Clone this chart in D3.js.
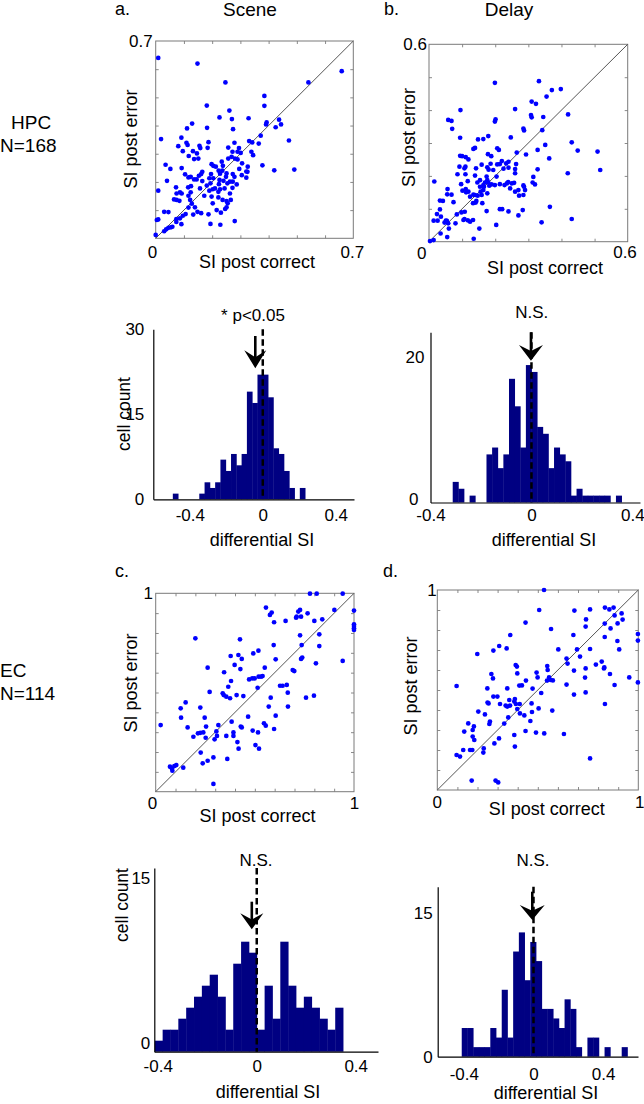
<!DOCTYPE html>
<html><head><meta charset="utf-8">
<script src="https://cdn.jsdelivr.net/npm/d3@7"></script>
<style>
body{margin:0;background:#fff}
svg{display:block}
text{font-family:"Liberation Sans",Arial,sans-serif;fill:#000}
</style>
</head><body>
<svg id="fig" width="644" height="1104"></svg>
<script>
// ---------------- DATA ----------------
// scatter values: [SI post correct, SI post error]
const hpcScene = [[0.009,0.640],[0.148,0.620],[0.659,0.593],[0.541,0.553],[0.247,0.553],[0.385,0.505],[0.385,0.470],[0.181,0.471],[0.261,0.453],[0.226,0.429],[0.270,0.423],[0.329,0.426],[0.393,0.411],[0.391,0.404],[0.437,0.421],[0.444,0.404],[0.425,0.394],[0.129,0.407],[0.111,0.390],[0.182,0.392],[0.274,0.387],[0.372,0.364],[0.019,0.352],[0.091,0.357],[0.080,0.327],[0.113,0.331],[0.109,0.339],[0.155,0.328],[0.158,0.320],[0.187,0.341],[0.184,0.321],[0.096,0.309],[0.132,0.309],[0.117,0.292],[0.146,0.301],[0.257,0.322],[0.279,0.339],[0.272,0.307],[0.290,0.307],[0.295,0.320],[0.301,0.303],[0.331,0.345],[0.342,0.340],[0.365,0.336],[0.339,0.307],[0.345,0.295],[0.472,0.347],[0.281,0.283],[0.290,0.280],[0.136,0.281],[0.151,0.283],[0.198,0.263],[0.204,0.257],[0.238,0.257],[0.234,0.272],[0.257,0.283],[0.269,0.289],[0.236,0.240],[0.213,0.254],[0.035,0.261],[0.052,0.246],[0.092,0.249],[0.378,0.259],[0.420,0.241],[0.491,0.244],[0.306,0.266],[0.326,0.254],[0.296,0.246],[0.321,0.237],[0.321,0.215],[0.104,0.227],[0.124,0.218],[0.161,0.228],[0.165,0.236],[0.153,0.222],[0.116,0.216],[0.136,0.209],[0.145,0.209],[0.196,0.228],[0.223,0.240],[0.228,0.229],[0.251,0.230],[0.273,0.228],[0.249,0.218],[0.279,0.218],[0.305,0.224],[0.325,0.236],[0.165,0.203],[0.190,0.213],[0.204,0.213],[0.194,0.195],[0.226,0.207],[0.240,0.204],[0.263,0.201],[0.273,0.201],[0.287,0.191],[0.040,0.204],[0.009,0.169],[0.224,0.192],[0.254,0.195],[0.072,0.181],[0.115,0.181],[0.125,0.185],[0.086,0.163],[0.074,0.159],[0.092,0.159],[0.124,0.163],[0.116,0.151],[0.157,0.177],[0.181,0.187],[0.190,0.169],[0.202,0.174],[0.210,0.177],[0.222,0.165],[0.228,0.174],[0.244,0.177],[0.272,0.179],[0.263,0.159],[0.222,0.145],[0.237,0.136],[0.251,0.132],[0.266,0.136],[0.172,0.151],[0.198,0.148],[0.122,0.136],[0.065,0.138],[0.074,0.136],[0.084,0.133],[0.202,0.124],[0.128,0.123],[0.255,0.124],[0.139,0.110],[0.116,0.109],[0.148,0.094],[0.161,0.089],[0.133,0.084],[0.106,0.086],[0.096,0.080],[0.086,0.071],[0.073,0.068],[0.187,0.085],[0.216,0.100],[0.246,0.104],[0.251,0.110],[0.231,0.091],[0.030,0.094],[0.045,0.093],[0.004,0.065],[0.009,0.067],[0.073,0.058],[0.091,0.050],[0.194,0.051],[0.229,0.048],[0.280,0.061],[0.030,0.025],[0.045,0.037],[0.054,0.039],[0.059,0.041],[0.037,0.032],[0.000,0.012]];

const hpcDelay = [[0.199,0.483],[0.332,0.488],[0.371,0.461],[0.398,0.464],[0.355,0.441],[0.310,0.426],[0.323,0.419],[0.308,0.385],[0.310,0.378],[0.420,0.387],[0.260,0.403],[0.095,0.400],[0.345,0.379],[0.201,0.372],[0.199,0.365],[0.058,0.370],[0.068,0.367],[0.070,0.343],[0.285,0.344],[0.287,0.338],[0.342,0.339],[0.247,0.317],[0.179,0.321],[0.148,0.311],[0.164,0.312],[0.139,0.285],[0.134,0.282],[0.094,0.316],[0.431,0.302],[0.509,0.274],[0.449,0.277],[0.517,0.218],[0.419,0.208],[0.351,0.294],[0.328,0.279],[0.293,0.265],[0.265,0.271],[0.363,0.253],[0.178,0.266],[0.188,0.260],[0.206,0.284],[0.211,0.279],[0.094,0.261],[0.100,0.260],[0.111,0.257],[0.119,0.250],[0.220,0.245],[0.240,0.243],[0.233,0.238],[0.225,0.222],[0.214,0.236],[0.263,0.236],[0.186,0.237],[0.206,0.235],[0.159,0.234],[0.176,0.226],[0.142,0.223],[0.110,0.228],[0.107,0.223],[0.092,0.228],[0.110,0.205],[0.086,0.205],[0.180,0.219],[0.194,0.218],[0.240,0.225],[0.260,0.221],[0.260,0.208],[0.328,0.220],[0.315,0.197],[0.320,0.174],[0.313,0.180],[0.257,0.179],[0.250,0.177],[0.260,0.152],[0.270,0.157],[0.285,0.171],[0.290,0.157],[0.285,0.142],[0.272,0.140],[0.239,0.181],[0.235,0.177],[0.228,0.172],[0.245,0.162],[0.214,0.175],[0.199,0.172],[0.189,0.174],[0.204,0.198],[0.174,0.198],[0.176,0.187],[0.179,0.180],[0.169,0.180],[0.166,0.167],[0.176,0.147],[0.164,0.172],[0.154,0.167],[0.182,0.170],[0.154,0.187],[0.146,0.180],[0.117,0.184],[0.139,0.201],[0.097,0.175],[0.101,0.155],[0.111,0.160],[0.112,0.150],[0.119,0.152],[0.124,0.137],[0.134,0.143],[0.139,0.142],[0.147,0.140],[0.159,0.142],[0.164,0.157],[0.156,0.152],[0.143,0.124],[0.141,0.119],[0.133,0.117],[0.161,0.117],[0.174,0.093],[0.214,0.099],[0.221,0.099],[0.240,0.092],[0.270,0.080],[0.283,0.096],[0.365,0.106],[0.340,0.059],[0.431,0.069],[0.287,0.167],[0.056,0.160],[0.068,0.143],[0.074,0.120],[0.033,0.125],[0.042,0.124],[0.016,0.183],[0.055,0.144],[0.033,0.098],[0.024,0.084],[0.036,0.076],[0.051,0.064],[0.047,0.058],[0.054,0.063],[0.014,0.064],[0.026,0.064],[0.060,0.040],[0.058,0.056],[0.080,0.056],[0.084,0.083],[0.098,0.089],[0.108,0.091],[0.107,0.069],[0.117,0.065],[0.124,0.061],[0.104,0.066],[0.133,0.066],[0.152,0.040],[0.135,0.009],[0.035,0.025],[0.014,0.005],[0.003,0.002],[0.203,0.051],[0.055,0.014]];

const ecScene = [[0.778,0.998],[0.812,0.998],[0.943,0.998],[1.000,0.913],[1.000,0.844],[1.000,0.835],[1.000,0.824],[1.000,0.815],[0.901,0.916],[0.556,0.928],[0.585,0.903],[0.576,0.891],[0.597,0.854],[0.655,0.861],[0.719,0.908],[0.728,0.916],[0.711,0.882],[0.733,0.882],[0.708,0.877],[0.766,0.899],[0.800,0.861],[0.840,0.869],[0.200,0.773],[0.425,0.768],[0.492,0.697],[0.518,0.711],[0.595,0.739],[0.378,0.684],[0.417,0.689],[0.434,0.669],[0.605,0.667],[0.736,0.739],[0.728,0.788],[0.825,0.793],[0.825,0.734],[0.739,0.676],[0.733,0.669],[0.808,0.647],[0.943,0.659],[0.262,0.625],[0.398,0.639],[0.427,0.618],[0.550,0.625],[0.345,0.602],[0.380,0.558],[0.366,0.529],[0.471,0.566],[0.487,0.571],[0.499,0.571],[0.519,0.580],[0.531,0.580],[0.539,0.583],[0.514,0.524],[0.627,0.534],[0.640,0.534],[0.661,0.538],[0.666,0.499],[0.691,0.613],[0.699,0.608],[0.272,0.503],[0.338,0.496],[0.343,0.487],[0.356,0.479],[0.375,0.471],[0.408,0.487],[0.442,0.482],[0.580,0.474],[0.758,0.474],[0.798,0.484],[0.667,0.429],[0.570,0.429],[0.605,0.383],[0.225,0.424],[0.126,0.420],[0.151,0.450],[0.128,0.373],[0.161,0.324],[0.247,0.373],[0.254,0.328],[0.225,0.297],[0.240,0.299],[0.252,0.272],[0.213,0.294],[0.190,0.277],[0.316,0.336],[0.383,0.353],[0.392,0.299],[0.392,0.281],[0.429,0.328],[0.434,0.324],[0.356,0.281],[0.306,0.304],[0.309,0.281],[0.297,0.264],[0.466,0.378],[0.489,0.308],[0.516,0.299],[0.546,0.345],[0.555,0.333],[0.597,0.316],[0.227,0.197],[0.262,0.156],[0.237,0.143],[0.291,0.173],[0.361,0.165],[0.412,0.250],[0.418,0.217],[0.503,0.235],[0.521,0.217],[0.291,0.039],[0.072,0.126],[0.081,0.118],[0.084,0.106],[0.094,0.129],[0.104,0.134],[0.139,0.121],[0.025,0.336]];

const ecDelay = [[0.531,1.000],[0.507,0.900],[0.439,0.837],[0.363,0.775],[0.566,0.805],[0.199,0.680],[0.279,0.697],[0.308,0.720],[0.345,0.708],[0.096,0.520],[0.269,0.580],[0.277,0.558],[0.249,0.508],[0.250,0.437],[0.279,0.467],[0.299,0.467],[0.312,0.430],[0.255,0.433],[0.237,0.378],[0.262,0.342],[0.259,0.330],[0.333,0.332],[0.353,0.363],[0.348,0.417],[0.362,0.422],[0.386,0.455],[0.383,0.442],[0.391,0.430],[0.398,0.405],[0.410,0.430],[0.411,0.383],[0.441,0.547],[0.474,0.507],[0.494,0.587],[0.499,0.563],[0.547,0.620],[0.549,0.600],[0.546,0.547],[0.556,0.563],[0.575,0.548],[0.517,0.485],[0.469,0.433],[0.471,0.390],[0.433,0.373],[0.463,0.345],[0.439,0.295],[0.491,0.287],[0.532,0.283],[0.572,0.397],[0.504,0.408],[0.390,0.625],[0.396,0.617],[0.398,0.583],[0.421,0.523],[0.408,0.522],[0.358,0.450],[0.340,0.422],[0.348,0.508],[0.383,0.275],[0.386,0.217],[0.307,0.258],[0.284,0.233],[0.231,0.208],[0.229,0.187],[0.176,0.300],[0.182,0.318],[0.176,0.267],[0.184,0.250],[0.154,0.333],[0.134,0.292],[0.096,0.175],[0.113,0.167],[0.129,0.200],[0.163,0.200],[0.174,0.200],[0.171,0.047],[0.290,0.047],[0.303,0.038],[0.602,0.703],[0.643,0.657],[0.648,0.632],[0.643,0.527],[0.680,0.597],[0.680,0.477],[0.677,0.775],[0.682,0.897],[0.695,0.703],[0.710,0.667],[0.735,0.562],[0.738,0.488],[0.738,0.608],[0.738,0.817],[0.740,0.853],[0.760,0.903],[0.760,0.705],[0.789,0.627],[0.818,0.642],[0.829,0.608],[0.831,0.613],[0.834,0.912],[0.833,0.832],[0.833,0.765],[0.856,0.903],[0.862,0.808],[0.877,0.912],[0.882,0.873],[0.896,0.745],[0.897,0.833],[0.905,0.703],[0.917,0.883],[0.922,0.852],[0.955,0.563],[0.998,0.780],[0.998,0.747],[0.998,0.538],[0.834,0.430],[0.859,0.580],[0.882,0.525],[0.760,0.158],[0.630,0.280],[0.564,0.550],[0.204,0.392]];

const scatterMax = [0.7, 0.6, 1, 1];

// histogram counts of differential SI (bins of equal width starting at binStart)
const histSceneHPC = [1,0,0,0,0,1,3,2,3,7,5,8,6,8,19,17,22,22,18,9,8,5,2,0,2];
const histDelayHPC = [3,2,0,1,0,0,7,8,5,7,18,14,8,20,19,11,10,5,8,7,6,1,2,1,1,1,1,1,0,1];
const histSceneEC  = [1,2,2,3,4,5,6,7,5,2,8,10,9,2,6,3,10,6,4,5,4,3,2,4];
const histDelayEC  = [3,3,1,1,1,3,2,7,2,11,13,8,12,10,5,5,4,3,6,5,1,0,2,2,0,1,0,0,1];
const binStart = [-0.493, -0.312, -0.412, -0.412];
const binWidth = [0.029, 0.0223, 0.0317, 0.0328];
const meanDiffSI = [-0.041, -0.002, -0.02, -0.007];
const histXTicks = [-0.4, 0, 0.4];
const histYTicks = [[0,15,30],[0,20],[0,15],[0,15]];
const histNotes = ["* p<0.05", "N.S.", "N.S.", "N.S."];

// ---------------- DRAWING ----------------
const svg = d3.select("#fig");
svg.append("rect").attr("width",644).attr("height",1104).attr("fill","#fff");

function txt(x, y, s, size, anchor){
  return svg.append("text").attr("x",x).attr("y",y).attr("font-size",size)
    .attr("text-anchor",anchor||"start").text(s);
}
function vtxt(x, y, s, size){
  return svg.append("text").attr("transform",`translate(${x},${y}) rotate(-90)`)
    .attr("font-size",size).attr("text-anchor","middle").text(s);
}

// headings
txt(115,15,"a.",18); txt(250,16,"Scene",19,"middle");
txt(384,15,"b.",18); txt(509,16,"Delay",19,"middle");
txt(115,577,"c.",18); txt(383,577,"d.",18);
txt(11,129,"HPC",19); txt(0,152,"N=168",19);
txt(0,677,"EC",19); txt(0,700,"N=114",19);

const scatterLayout = [
 {data:hpcScene, x0:155.7,x1:353.3,y0:41,y1:238.3, zDx:-3.2,zDy:14, mDx:-1,mDy:14, yDx:-3, xt:[257,268], yt:[137,139]},
 {data:hpcDelay, x0:429,x1:627.7,y0:44.3,y1:241.7, zDx:-7.3,zDy:11, mDx:-2.7,mDy:10.5, yDx:-2, xt:[545,274], yt:[415,137.5]},
 {data:ecScene, x0:155.7,x1:354,y0:593.3,y1:791.7, zDx:-3.2,zDy:11, mDx:0.5,mDy:11, yDx:-2.7, xt:[257.5,822], yt:[137,683]},
 {data:ecDelay, x0:437.3,x1:638.3,y0:590,y1:790, zDx:0,zDy:12.5, mDx:1.5,mDy:12, yDx:-0.5, xt:[546.7,815], yt:[416.5,686]}
];

scatterLayout.forEach((p,i)=>{
  const max = scatterMax[i];
  const x = d3.scaleLinear().domain([0,max]).range([p.x0,p.x1]);
  const y = d3.scaleLinear().domain([0,max]).range([p.y1,p.y0]);
  const g = svg.append("g");
  const tv = d3.range(1, Math.round(max*10)).map(k=>k/10);
  const style = s => { s.select(".domain").remove(); s.selectAll("line").attr("stroke","#8a8a8a"); s.selectAll("text").remove(); };
  g.append("g").attr("transform",`translate(0,${p.y1})`).call(d3.axisBottom(x).tickValues(tv).tickSize(-3)).call(style);
  g.append("g").attr("transform",`translate(0,${p.y0})`).call(d3.axisTop(x).tickValues(tv).tickSize(-3)).call(style);
  g.append("g").attr("transform",`translate(${p.x0},0)`).call(d3.axisLeft(y).tickValues(tv).tickSize(-3)).call(style);
  g.append("g").attr("transform",`translate(${p.x1},0)`).call(d3.axisRight(y).tickValues(tv).tickSize(-3)).call(style);
  g.append("rect").attr("x",x(0)).attr("y",y(max)).attr("width",x(max)-x(0)).attr("height",y(0)-y(max))
    .attr("fill","none").attr("stroke","#7a7a7a").attr("stroke-width",1);
  g.append("line").attr("x1",x(0)).attr("y1",y(0)).attr("x2",x(max)).attr("y2",y(max))
    .attr("stroke","#555").attr("stroke-width",1);
  g.selectAll("circle").data(p.data).join("circle")
    .attr("cx",d=>x(d[0])).attr("cy",d=>y(d[1])).attr("r",2.35).attr("fill","#0000ff");
  // tick labels
  txt(x(0)+p.zDx, y(0)+p.zDy, "0", 17, "middle").attr("dy","0.35em");
  txt(x(max)+p.mDx, y(0)+p.mDy, String(max), 17, "middle").attr("dy","0.35em");
  txt(x(0)+p.yDx, y(max), String(max), 17, "end").attr("dy","0.35em");
  txt(p.xt[0], p.xt[1], "SI post correct", 18, "middle");
  vtxt(p.yt[0], p.yt[1], "SI post error", 18);
});

const histLayout = [
 {counts:histSceneHPC, xd:[-0.6,0.5], x0:153.3, x1:354, base:499.3, top:329.3, ymax:30, yPad:9, yShift:d=>[0,0], xPad:9.5,
  note:[253,321], aTop:336, aTip:368.3, hw:22, hl:18, xt:[262,546], yt:[130,414]},
 {counts:histDelayHPC, xd:[-0.4,0.43], x0:430.5, x1:640, base:502.5, top:332.3, ymax:24.77, yPad:6, yShift:d=>d>0?[0,-8]:[-6,-3], xPad:6.5,
  note:[531.7,318], aTop:332.3, aTip:360.7, hw:24, hl:15.7, xt:[544,546], yt:null},
 {counts:histSceneEC, xd:[-0.414,0.49], x0:154.3, x1:378, base:1051.7, top:868, ymax:16.7, yPad:4, yShift:d=>[0,-9], xPad:8.5,
  note:[256,866], aTop:901.7, aTip:929.3, hw:23, hl:16, xt:[268,1098], yt:[128,905]},
 {counts:histDelayEC, xd:[-0.55,0.6], x0:437.7, x1:638, base:1056.7, top:886.7, ymax:17.78, yPad:5, yShift:d=>[0,0], xPad:11.5,
  note:[533,866], aTop:891.7, aTip:920, hw:25, hl:15, xt:[546,1099], yt:null}
];

histLayout.forEach((h,i)=>{
  const x = d3.scaleLinear().domain(h.xd).range([h.x0,h.x1]);
  const y = d3.scaleLinear().domain([0,h.ymax]).range([h.base,h.top]);
  const g = svg.append("g");
  const bins = h.counts.map((c,k)=>({a:binStart[i]+k*binWidth[i], b:binStart[i]+(k+1)*binWidth[i], c}));
  g.selectAll("rect").data(bins.filter(d=>d.c>0)).join("rect")
    .attr("x",d=>x(d.a)).attr("width",d=>x(d.b)-x(d.a)+0.4)
    .attr("y",d=>y(d.c)).attr("height",d=>y(0)-y(d.c)).attr("fill","#000082");
  const fmt = d => d===0 ? "0" : String(d);
  const xa = g.append("g").attr("transform",`translate(0,${h.base})`)
    .call(d3.axisBottom(x).tickValues(histXTicks).tickSize(0).tickSizeOuter(0).tickPadding(h.xPad).tickFormat(fmt));
  xa.select(".domain").attr("stroke","#000").attr("stroke-width",1.2);
  xa.selectAll("text").attr("font-size",17).attr("font-family","Liberation Sans, Arial, sans-serif").attr("fill","#000");
  const ya = g.append("g").attr("transform",`translate(${h.x0},0)`)
    .call(d3.axisLeft(y).tickValues(histYTicks[i]).tickSize(0).tickSizeOuter(0).tickPadding(h.yPad));
  ya.select(".domain").attr("stroke","#000").attr("stroke-width",1.2);
  ya.selectAll("text").attr("font-size",17).attr("font-family","Liberation Sans, Arial, sans-serif").attr("fill","#000")
    .attr("transform",d=>`translate(${h.yShift(d)[0]},${h.yShift(d)[1]})`);
  // dashed zero line
  g.append("line").attr("x1",x(0)).attr("x2",x(0)).attr("y1",h.top).attr("y2",h.base)
    .attr("stroke","#000").attr("stroke-width",2.5).attr("stroke-dasharray","6.5,3.5");
  // mean arrow
  const ax = x(meanDiffSI[i]);
  g.append("line").attr("x1",ax).attr("x2",ax).attr("y1",h.aTop).attr("y2",h.aTip-h.hl*0.5)
    .attr("stroke","#000").attr("stroke-width",2.6);
  const hw = h.hw/2, hl = h.hl;
  g.append("path").attr("d",`M${ax},${h.aTip} L${ax-hw},${h.aTip-hl} L${ax},${h.aTip-hl*0.62} L${ax+hw},${h.aTip-hl} Z`)
    .attr("fill","#000");
  txt(h.note[0], h.note[1], histNotes[i], 17, "middle");
  txt(h.xt[0], h.xt[1], "differential SI", 18, "middle");
  if (h.yt) vtxt(h.yt[0], h.yt[1], "cell count", 17.5);
});
</script>
</body></html>
